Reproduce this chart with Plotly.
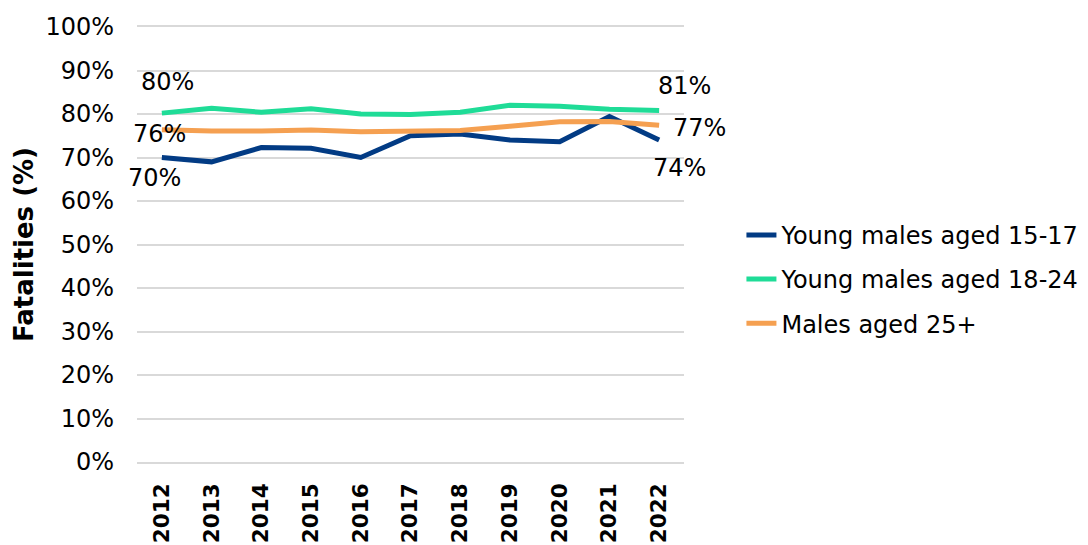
import plotly.graph_objects as go

years = ["2012", "2013", "2014", "2015", "2016", "2017", "2018", "2019", "2020", "2021", "2022"]
males_15_17 = [70.0, 69.0, 72.3, 72.1, 70.0, 75.0, 75.4, 74.0, 73.6, 79.4, 74.0]
males_18_24 = [80.2, 81.3, 80.4, 81.2, 80.0, 79.9, 80.4, 82.0, 81.8, 81.1, 80.8]
males_25_plus = [76.4, 76.1, 76.1, 76.3, 75.9, 76.0, 76.2, 77.2, 78.2, 78.3, 77.4]

series = [
    ("Young males aged 15-17", males_15_17, "#023B84"),
    ("Young males aged 18-24", males_18_24, "#1FDC97"),
    ("Males aged 25+", males_25_plus, "#F5A051"),
]

# label offsets (first point, last point) per series
offsets = {
    "Young males aged 15-17": ((-7, -20), (20, -28)),
    "Young males aged 18-24": ((6, 31), (25, 25)),
    "Males aged 25+": ((-2, -4), (40, -3)),
}

font = "Verdana, DejaVu Sans, sans-serif"

fig = go.Figure()
annotations = []
for name, vals, color in series:
    fig.add_trace(go.Scatter(x=years, y=vals, name=name, mode="lines", legendgroup=name,
                             line=dict(color=color, width=5)))
    for idx, (dx, dy) in zip((0, len(years) - 1), offsets[name]):
        annotations.append(dict(
            x=idx, y=vals[idx], xref="x", yref="y",
            text=f"{round(vals[idx]):.0f}%", showarrow=False,
            xshift=dx, yshift=dy, font=dict(size=24, color="#000000", family=font),
        ))

fig.update_layout(
    width=1088, height=545,
    margin=dict(l=129, r=408, t=19, b=91),
    plot_bgcolor="white", paper_bgcolor="white",
    font=dict(family=font, size=24, color="#000000"),
    annotations=annotations,
    showlegend=True,
    legend=dict(x=1.105, y=0.42, xanchor="left", yanchor="middle",
                font=dict(size=24), traceorder="grouped", tracegroupgap=10),
)
fig.update_xaxes(
    type="category", range=[-0.5, 10.5], tickangle=-90, automargin=False,
    tickfont=dict(size=21.5, family=font, weight="bold"),
    showgrid=False, ticks="", ticklabelstandoff=11,
    showline=True, mirror=True, linecolor="#D9D9D9", linewidth=1.5,
)
fig.update_yaxes(
    range=[0, 100], dtick=10, ticksuffix="%", automargin=False,
    gridcolor="#D9D9D9", gridwidth=1.5, zeroline=True, zerolinecolor="#D9D9D9", zerolinewidth=1.5,
    showline=False, ticks="", ticklabelstandoff=22,
    title=dict(text="<b>Fatalities (%)</b>", font=dict(size=26), standoff=4),
)

fig.write_html("out.html")
